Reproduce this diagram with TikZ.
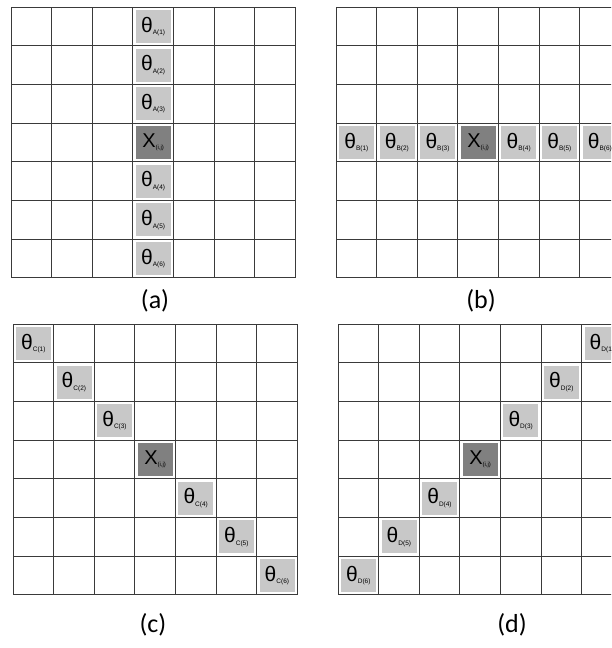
\documentclass[tikz,border=0pt]{standalone}
\usepackage{fontspec}
\setmainfont{Liberation Sans}
\newfontfamily\captionfont{Carlito}
\usetikzlibrary{positioning}

\definecolor{cellgray}{HTML}{C8C8C8}
\definecolor{centergray}{HTML}{808080}
\definecolor{linegray}{HTML}{3A3A3A}

% theta with a small subscript
\newcommand{\thetasub}[1]{{\fontsize{21}{21}\selectfont θ}\raisebox{-2.5pt}{\fontsize{6.5}{7}\selectfont #1}}
\newcommand{\centersub}{{\fontsize{20}{20}\selectfont X}\raisebox{-2.5pt}{\fontsize{6}{7}\selectfont (i,j)}}
% 7x7 grid of unit cells
\newcommand{\cellgrid}{\foreach \i in {0,...,7} {
        \draw[gridline] (\i,0) -- (\i,7);
        \draw[gridline] (0,\i) -- (7,\i);}}

\begin{document}
\begin{tikzpicture}[
    line cap=rect,
    gridline/.style={draw=linegray, line width=0.9pt},
    nbcell/.style={fill=cellgray, draw=white, line width=0.8pt,
        minimum width=36pt, minimum height=34pt, inner sep=0pt},
    xcell/.style={nbcell, fill=centergray},
    panel label/.style={font=\captionfont\fontsize{26}{26}\selectfont}
]

\useasboundingbox (0,0) rectangle (611pt,-648pt);
\clip (0,0) rectangle (611pt,-648pt);

% -------------------------------------------------
% (a) vertical neighbours
% -------------------------------------------------

\begin{scope}[shift={(11pt,-7pt)}, x=40.6pt, y=-38.7pt]
    \cellgrid
    \foreach \r/\n in {0/1,1/2,2/3,4/4,5/5,6/6}
        \node[nbcell] (a\n) at (3.5,\r+0.5) {\thetasub{A(\n)}};
    \node[xcell] (ax) at (3.5,3.5) {\centersub};
\end{scope}

% -------------------------------------------------
% (b) horizontal neighbours
% -------------------------------------------------

\begin{scope}[shift={(336pt,-7pt)}, x=40.6pt, y=-38.7pt]
    \cellgrid
    \foreach \c/\n in {0/1,1/2,2/3,4/4,5/5,6/6}
        \node[nbcell] (b\n) at (\c+0.5,3.5) {\thetasub{B(\n)}};
    \node[xcell] (bx) at (3.5,3.5) {\centersub};
\end{scope}

% -------------------------------------------------
% (c) main diagonal neighbours
% -------------------------------------------------

\begin{scope}[shift={(13pt,-324pt)}, x=40.6pt, y=-38.7pt]
    \cellgrid
    \foreach \k/\n in {0/1,1/2,2/3,4/4,5/5,6/6}
        \node[nbcell] (c\n) at (\k+0.5,\k+0.5) {\thetasub{C(\n)}};
    \node[xcell] (cx) at (3.5,3.5) {\centersub};
\end{scope}

% -------------------------------------------------
% (d) anti-diagonal neighbours
% -------------------------------------------------

\begin{scope}[shift={(338pt,-324pt)}, x=40.6pt, y=-38.7pt]
    \cellgrid
    \foreach \k/\n in {0/1,1/2,2/3,4/4,5/5,6/6}
        \node[nbcell] (d\n) at (6.5-\k,\k+0.5) {\thetasub{D(\n)}};
    \node[xcell] (dx) at (3.5,3.5) {\centersub};
\end{scope}

% -------------------------------------------------
% Panel captions
% -------------------------------------------------

\node[panel label] (lbla) at (155pt,-301pt) {(a)};
\node[panel label] (lblb) at (481pt,-301pt) {(b)};
\node[panel label] (lblc) at (153pt,-625pt) {(c)};
\node[panel label] (lbld) at (512pt,-625pt) {(d)};

\end{tikzpicture}
\end{document}
